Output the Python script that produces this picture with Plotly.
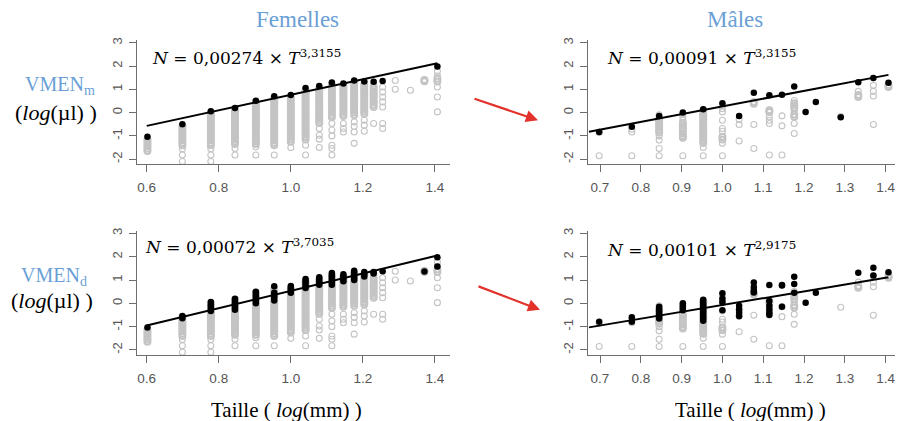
import plotly.graph_objects as go
from plotly.subplots import make_subplots

# the page puts the figure 8 px in from the top-left corner
PAGE_W, PAGE_H, OFF = 903, 421, 8
W, H = PAGE_W - OFF, PAGE_H - OFF

# ---- data (log10 values) ----
# female size classes
fem_x = [0.602, 0.699, 0.778, 0.845, 0.903, 0.954, 1.000, 1.041, 1.079,
         1.114, 1.146, 1.176, 1.204, 1.230, 1.255, 1.290, 1.332, 1.371, 1.407]

# grey points, one list per female size class
g_f_0602 = [-1.15, -1.25, -1.35, -1.45, -1.55, -1.65]
g_f_0699 = [-0.6, -0.7, -0.8, -0.9, -1.0, -1.1, -1.2, -1.3, -1.4, -1.55, -1.82, -2.1]
g_f_0778 = [0.0, -0.1, -0.2, -0.3, -0.4, -0.5, -0.6, -0.7, -0.8, -0.9, -1.0, -1.1,
            -1.2, -1.3, -1.4, -1.55, -1.82, -2.1]
g_f_0845 = [0.15, 0.05, -0.05, -0.15, -0.25, -0.35, -0.45, -0.55, -0.65, -0.75,
            -0.85, -0.95, -1.05, -1.15, -1.25, -1.35, -1.54, -1.82]
g_f_0903 = [0.45, 0.35, 0.25, 0.15, 0.05, -0.05, -0.15, -0.25, -0.35, -0.45, -0.55,
            -0.65, -0.75, -0.85, -0.95, -1.05, -1.15, -1.25, -1.35, -1.47, -1.82]
g_f_0954 = [0.6, 0.5, 0.4, 0.3, 0.2, 0.1, 0.0, -0.1, -0.2, -0.3, -0.4, -0.5, -0.6,
            -0.7, -0.8, -0.9, -1.0, -1.1, -1.2, -1.3, -1.4, -1.82]
g_f_1000 = [0.65, 0.55, 0.45, 0.35, 0.25, 0.15, 0.05, -0.05, -0.15, -0.25, -0.35,
            -0.45, -0.55, -0.65, -0.75, -0.85, -0.95, -1.05, -1.15, -1.25, -1.5]
g_f_1041 = [0.95, 0.85, 0.75, 0.65, 0.55, 0.45, 0.35, 0.25, 0.15, 0.05, -0.05, -0.15,
            -0.25, -0.35, -0.45, -0.55, -0.65, -0.75, -0.85, -0.95, -1.05, -1.15,
            -1.4, -1.82]
g_f_1079 = [1.05, 0.95, 0.85, 0.75, 0.65, 0.55, 0.45, 0.35, 0.25, 0.15, 0.05, -0.05,
            -0.15, -0.25, -0.35, -0.45, -0.68, -0.97, -1.14, -1.5]
g_f_1114 = [1.2, 1.1, 1.0, 0.9, 0.8, 0.7, 0.6, 0.5, 0.4, 0.3, 0.2, 0.1, 0.0, -0.1,
            -0.2, -0.47, -0.75, -1.0, -1.4, -1.54, -1.82]
g_f_1146 = [1.15, 1.05, 0.95, 0.85, 0.75, 0.65, 0.55, 0.45, 0.35, 0.25, 0.15, 0.05,
            -0.05, -0.15, -0.47, -0.68, -0.83]
g_f_1176 = [1.3, 1.2, 1.1, 1.0, 0.9, 0.8, 0.7, 0.6, 0.5, 0.4, 0.3, 0.2, 0.1, 0.0,
            -0.1, -0.4, -0.6, -0.83, -1.32]
g_f_1204 = [1.25, 1.15, 1.05, 0.95, 0.85, 0.75, 0.65, 0.55, 0.45, 0.35, 0.25, 0.15,
            0.05, -0.05, -0.33, -0.54, -0.8]
g_f_1230 = [1.24, 1.1, 1.0, 0.91, 0.8, 0.74, 0.64, 0.53, 0.44, 0.34, 0.24, -0.47]
g_f_1255 = [1.1, 0.88, 0.67, 0.46, 0.24, -0.47, -0.68]
g_f_1290 = [1.38, 1.0]
g_f_1332 = [0.96]
g_f_1371 = [1.4, 1.35]
g_f_1407 = [1.77, 1.57, 1.45, 1.34, 1.1, 0.67, 0.03]

# black points, VMEN_m (females): one per class
fem_m_x = [0.602, 0.699, 0.778, 0.845, 0.903, 0.954, 1.000, 1.041, 1.079,
           1.114, 1.146, 1.176, 1.204, 1.230, 1.255, 1.407]
fem_m_y = [-1.04, -0.5, 0.06, 0.2, 0.51, 0.7, 0.75, 1.06, 1.14,
           1.29, 1.25, 1.38, 1.34, 1.32, 1.36, 1.98]

# black points, VMEN_d (females)
fem_d_x = ([0.602] + [0.699] * 2 + [0.778] * 5 + [0.845] * 6 + [0.903] * 6
           + [0.954] * 5 + [1.000] * 4 + [1.041] * 5 + [1.079] * 4 + [1.114] * 6
           + [1.146] * 4 + [1.176] * 5 + [1.204] * 3 + [1.230] * 2 + [1.255]
           + [1.371] + [1.407] * 2)
fem_d_y = [-1.04,
           -0.54, -0.64,
           0.06, -0.05, -0.15, -0.25, -0.33,
           0.2, 0.1, 0.0, -0.1, -0.2, -0.27,
           0.5, 0.4, 0.3, 0.2, 0.1, 0.0,
           0.73, 0.45, 0.35, 0.25, 0.12,
           0.75, 0.65, 0.55, 0.45,
           1.05, 0.95, 0.85, 0.75, 0.66,
           1.12, 1.0, 0.9, 0.8,
           1.3, 1.2, 1.1, 1.0, 0.9, 0.8,
           1.25, 1.15, 1.05, 0.95,
           1.4, 1.3, 1.2, 1.1, 1.0,
           1.35, 1.25, 1.15,
           1.35, 1.28,
           1.38,
           1.37,
           1.98, 1.58]

# grey points, males
male_gray_x = ([0.698] * 2 + [0.778] * 3 + [0.845] * 12 + [0.903] * 11 + [0.953] * 17
               + [1.000] * 10 + [1.041] * 3 + [1.077] * 4 + [1.115] * 6 + [1.146] * 3
               + [1.176] * 9 + [1.290] + [1.333] * 3 + [1.370] * 4 + [1.407] * 2)
male_gray_y = [-0.85, -1.85,
               -0.71, -0.83, -1.85,
               -0.1, -0.25, -0.35, -0.45, -0.55, -0.65, -0.75, -0.85, -1.0, -1.18, -1.54, -1.85,
               -0.05, -0.18, -0.33, -0.45, -0.54, -0.65, -0.75, -0.9, -1.0, -1.08, -1.85,
               0.1, 0.0, -0.1, -0.2, -0.3, -0.4, -0.5, -0.6, -0.7, -0.8, -0.9, -1.0, -1.1,
               -1.2, -1.3, -1.5, -1.85,
               0.3, 0.17, 0.03, -0.33, -0.68, -0.8, -1.04, -1.15, -1.32, -1.85,
               -0.3, -0.51, -1.22,
               0.46, 0.38, -0.51, -1.54,
               0.1, 0.03, -0.18, -0.33, -0.47, -1.82,
               -0.14, -0.57, -1.82,
               0.52, 0.4, 0.3, 0.2, 0.06, -0.08, -0.18, -0.47, -0.9,
               -0.17,
               0.91, 0.75, 0.67,
               1.17, 0.91, 0.71, -0.51,
               1.17, 1.1]

# black points, VMEN_m (males): one per class
male_m_x = [0.698, 0.778, 0.845, 0.903, 0.953, 1.000, 1.041, 1.077, 1.115,
            1.146, 1.176, 1.204, 1.229, 1.290, 1.333, 1.370, 1.407]
male_m_y = [-0.83, -0.61, -0.15, 0.0, 0.14, 0.4, -0.15, 0.85, 0.74,
            0.77, 1.12, 0.03, 0.45, -0.2, 1.3, 1.49, 1.28]

# black points, VMEN_d (males)
male_d_x = ([0.698] + [0.778] * 2 + [0.845] * 6 + [0.903] * 4 + [0.953] * 10
            + [1.000] * 4 + [1.041] * 4 + [1.077] * 4 + [1.115] * 6 + [1.146] * 3
            + [1.176] * 3 + [1.204] + [1.229] + [1.333] + [1.370] * 2 + [1.407])
male_d_y = [-0.79,
            -0.6, -0.79,
            -0.15, -0.25, -0.35, -0.45, -0.55, -0.65,
            0.0, -0.1, -0.2, -0.3,
            0.15, 0.05, -0.05, -0.15, -0.25, -0.35, -0.45, -0.55, -0.65, -0.75,
            0.43, 0.2, 0.05, -0.3,
            -0.1, -0.25, -0.4, -0.55,
            0.9, 0.7, 0.57, 0.47,
            0.79, 0.1, -0.1, -0.25, -0.4, -0.5,
            0.79, 0.77, -0.14,
            1.14, 0.83, 0.46,
            0.03,
            0.46,
            1.31,
            1.53, 1.19,
            1.33]

# fitted lines (end points)
fit_fm_x, fit_fm_y = [0.6, 1.407], [-0.57, 2.12]
fit_mm_x, fit_mm_y = [0.673, 1.407], [-0.82, 1.62]
fit_fd_x, fit_fd_y = [0.6, 1.407], [-0.95, 2.05]
fit_md_x, fit_md_y = [0.673, 1.407], [-1.03, 1.12]

equations = [
    "<i>N</i> = 0,00274 × <i>T</i><sup>3,3155</sup>",
    "<i>N</i> = 0,00091 × <i>T</i><sup>3,3155</sup>",
    "<i>N</i> = 0,00072 × <i>T</i><sup>3,7035</sup>",
    "<i>N</i> = 0,00101 × <i>T</i><sup>2,9175</sup>",
]

y_ticks = [-2, -1, 0, 1, 2, 3]
y_tick_text = ["-2", "-1", "0", "1", "2", "3"]
x_ticks_f = [0.6, 0.8, 1.0, 1.2, 1.4]
x_tick_text_f = ["0.6", "0.8", "1.0", "1.2", "1.4"]
x_ticks_m = [0.7, 0.8, 0.9, 1.0, 1.1, 1.2, 1.3, 1.4]
x_tick_text_m = ["0.7", "0.8", "0.9", "1.0", "1.1", "1.2", "1.3", "1.4"]

# ---- figure ----
fem_gray_cols = [g_f_0602, g_f_0699, g_f_0778, g_f_0845, g_f_0903, g_f_0954,
                 g_f_1000, g_f_1041, g_f_1079, g_f_1114, g_f_1146, g_f_1176,
                 g_f_1204, g_f_1230, g_f_1255, g_f_1290, g_f_1332, g_f_1371, g_f_1407]
fem_gray_x, fem_gray_y = [], []
for xv, col in zip(fem_x, fem_gray_cols):
    fem_gray_x += [xv] * len(col)
    fem_gray_y += col

GREY = "#c4c4c4"
AXIS = "#6e6e6e"
BLUE = "#6a9fd6"
SERIF = "Liberation Serif, Times New Roman, serif"
MATH = "DejaVu Serif, serif"
SANS = "Liberation Sans, Arial, sans-serif"


def ring_widths(xs, ys):
    # thicker rings where circles pile up, so dense stacks read as a solid band
    out = []
    for i, (x, y) in enumerate(zip(xs, ys)):
        gaps = [abs(y - y2) for j, (x2, y2) in enumerate(zip(xs, ys)) if j != i and x2 == x]
        out.append(2.0 if gaps and min(gaps) <= 0.11 else 1.1)
    return out


def px_x(p):
    # page pixel -> paper fraction
    return (p - OFF) / W


def px_y(p):
    return 1 - (p - OFF) / H


fig = make_subplots(rows=2, cols=2)

panels = [
    (1, 1, fem_gray_x, fem_gray_y, fem_m_x, fem_m_y, fit_fm_x, fit_fm_y),
    (1, 2, male_gray_x, male_gray_y, male_m_x, male_m_y, fit_mm_x, fit_mm_y),
    (2, 1, fem_gray_x, fem_gray_y, fem_d_x, fem_d_y, fit_fd_x, fit_fd_y),
    (2, 2, male_gray_x, male_gray_y, male_d_x, male_d_y, fit_md_x, fit_md_y),
]

for row, col, gx, gy, bx, by, lx, ly in panels:
    fig.add_trace(go.Scatter(x=gx, y=gy, mode="markers",
                             marker=dict(symbol="circle-open", size=6, color=GREY,
                                         line=dict(width=ring_widths(gx, gy), color=GREY)),
                             showlegend=False, hoverinfo="skip"), row=row, col=col)
    fig.add_trace(go.Scatter(x=lx, y=ly, mode="lines",
                             line=dict(color="black", width=2),
                             showlegend=False, hoverinfo="skip"), row=row, col=col)
    fig.add_trace(go.Scatter(x=bx, y=by, mode="markers",
                             marker=dict(symbol="circle", size=6.5, color="black"),
                             showlegend=False, hoverinfo="skip"), row=row, col=col)

# panel placement in page pixels: (left, right), (top, bottom)
dom_x = {1: (137, 450), 2: (588, 903)}
dom_y = {1: (37.6, 162.2), 2: (229.7, 354.4)}
x_range = {1: [0.573, 1.442], 2: [0.6706, 1.4426]}

for row in (1, 2):
    for col in (1, 2):
        fig.update_xaxes(
            domain=[px_x(dom_x[col][0]), min(1, px_x(dom_x[col][1]))],
            range=x_range[col],
            tickvals=x_ticks_f if col == 1 else x_ticks_m,
            ticktext=x_tick_text_f if col == 1 else x_tick_text_m,
            showline=True, linecolor=AXIS, linewidth=1,
            ticks="outside", ticklen=7, tickcolor=AXIS, ticklabelstandoff=4,
            showgrid=False, zeroline=False,
            tickfont=dict(family=SANS, size=13.5, color="#555555"),
            row=row, col=col)
        fig.update_yaxes(
            domain=[px_y(dom_y[row][1]), px_y(dom_y[row][0])],
            range=[-2.21, 3.1],
            tickvals=y_ticks, ticktext=y_tick_text, tickangle=-90,
            showline=True, linecolor=AXIS, linewidth=1,
            ticks="outside", ticklen=7, tickcolor=AXIS, ticklabelstandoff=2,
            showgrid=False, zeroline=False,
            tickfont=dict(family=SANS, size=13, color="#555555"),
            row=row, col=col)

annotations = []


def label(text, x, y, size, color="black", xanchor="center", family=SERIF):
    annotations.append(dict(text=text, x=px_x(x), y=px_y(y), xref="paper", yref="paper",
                            xanchor=xanchor, yanchor="middle", showarrow=False,
                            font=dict(family=family, size=size, color=color)))


label("Femelles", 297, 17, 23, BLUE)
label("Mâles", 735, 17, 23, BLUE)
label("VMEN<sub>m</sub>", 60, 83, 20, BLUE)
label("(<i>log</i>(µl) )", 56, 110, 22)
label("VMEN<sub>d</sub>", 54, 275, 20, BLUE)
label("(<i>log</i>(µl) )", 52, 300, 22)
label("Taille ( <i>log</i>(mm) )", 286, 410, 21)
label("Taille ( <i>log</i>(mm) )", 750, 410, 21)

eq_pos = [(150, 54), (605, 54), (143, 245), (605, 248)]
for text, (x, y) in zip(equations, eq_pos):
    label(text, x, y, 17, xanchor="left", family=MATH)

# red arrows (tail -> head, page pixels)
for tail, head in [((473, 96), (538, 118)), ((477, 285), (540, 309))]:
    annotations.append(dict(x=px_x(head[0]), y=px_y(head[1]),
                            ax=tail[0] - head[0], ay=tail[1] - head[1],
                            xref="paper", yref="paper", axref="pixel", ayref="pixel",
                            text="", showarrow=True,
                            arrowhead=2, arrowsize=1.1, arrowwidth=2.2,
                            arrowcolor="#e3312b"))

fig.update_layout(
    width=W, height=H,
    margin=dict(l=0, r=0, t=0, b=0),
    paper_bgcolor="white", plot_bgcolor="white",
    annotations=annotations,
    showlegend=False,
)

fig.write_html("out.html")
